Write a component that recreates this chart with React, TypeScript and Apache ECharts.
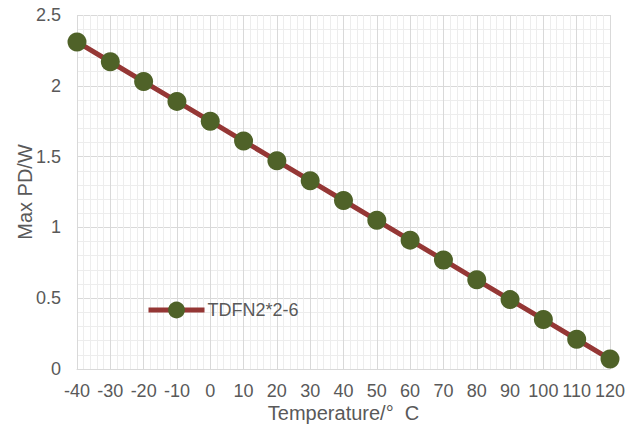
import React, { useEffect, useRef } from "react";
import * as echarts from "echarts";

const temperatures = [-40, -30, -20, -10, 0, 10, 20, 30, 40, 50, 60, 70, 80, 90, 100, 110, 120];
const maxPD = [2.31, 2.17, 2.03, 1.89, 1.75, 1.61, 1.47, 1.33, 1.19, 1.05, 0.91, 0.77, 0.63, 0.49, 0.35, 0.21, 0.07];
const seriesName = "TDFN2*2-6";
const xTitle = "Temperature/°  C";
const yTitle = "Max PD/W";

const FONT = "Liberation Sans, Arial, sans-serif";
const TEXT = "#595959";

export default function App() {
  const ref = useRef<HTMLDivElement>(null);
  useEffect(() => {
    if (!ref.current) return;
    const chart = echarts.init(ref.current, undefined, { renderer: "svg" });
    const data = temperatures.map((t, i) => [t, maxPD[i]]);
    chart.setOption({
      animation: false,
      backgroundColor: "#ffffff",
      grid: { left: 77, right: 26, top: 15, bottom: 60, containLabel: false, outerBoundsMode: "none" },
      legend: {
        data: [seriesName],
        left: 146,
        top: 301,
        padding: 0,
        itemWidth: 56,
        itemHeight: 21,
        itemGap: 0,
        lineStyle: { width: 5, color: "#953735" },
        textStyle: { color: TEXT, fontSize: 18, fontFamily: FONT, padding: [0, 0, 0, -2] },
      },
      xAxis: {
        type: "value",
        min: -40,
        max: 120,
        interval: 10,
        name: xTitle,
        nameLocation: "middle",
        nameGap: 34,
        nameMoveOverlap: false,
        nameTextStyle: { color: TEXT, fontSize: 20, fontFamily: FONT },
        axisLine: { show: true, lineStyle: { color: "#d9d9d9", width: 1 } },
        axisTick: { show: false },
        axisLabel: { color: TEXT, fontSize: 18, fontFamily: FONT, margin: 13 },
        splitLine: { show: true, lineStyle: { color: "#d9d9d9", width: 1 } },
        minorTick: { show: false, splitNumber: 5 },
        minorSplitLine: { show: true, lineStyle: { color: "#ededed", width: 1 } },
      },
      yAxis: {
        type: "value",
        min: 0,
        max: 2.5,
        interval: 0.5,
        name: yTitle,
        nameLocation: "middle",
        nameGap: 42,
        nameMoveOverlap: false,
        nameTextStyle: { color: TEXT, fontSize: 20, fontFamily: FONT },
        axisLine: { show: false },
        axisTick: { show: false },
        axisLabel: { color: TEXT, fontSize: 18, fontFamily: FONT, margin: 16 },
        splitLine: { show: true, lineStyle: { color: "#d9d9d9", width: 1 } },
        minorTick: { show: false, splitNumber: 5 },
        minorSplitLine: { show: true, lineStyle: { color: "#ededed", width: 1 } },
      },
      series: [
        {
          name: seriesName,
          type: "line",
          data,
          symbol: "circle",
          symbolSize: 19,
          lineStyle: { color: "#953735", width: 5 },
          itemStyle: { color: "#4F6228", borderWidth: 0 },
          z: 3,
        },
      ],
    });
    return () => chart.dispose();
  }, []);
  return (
    <div
      ref={ref}
      style={{ position: "absolute", left: 0, top: 0, width: 636, height: 429 }}
    />
  );
}
